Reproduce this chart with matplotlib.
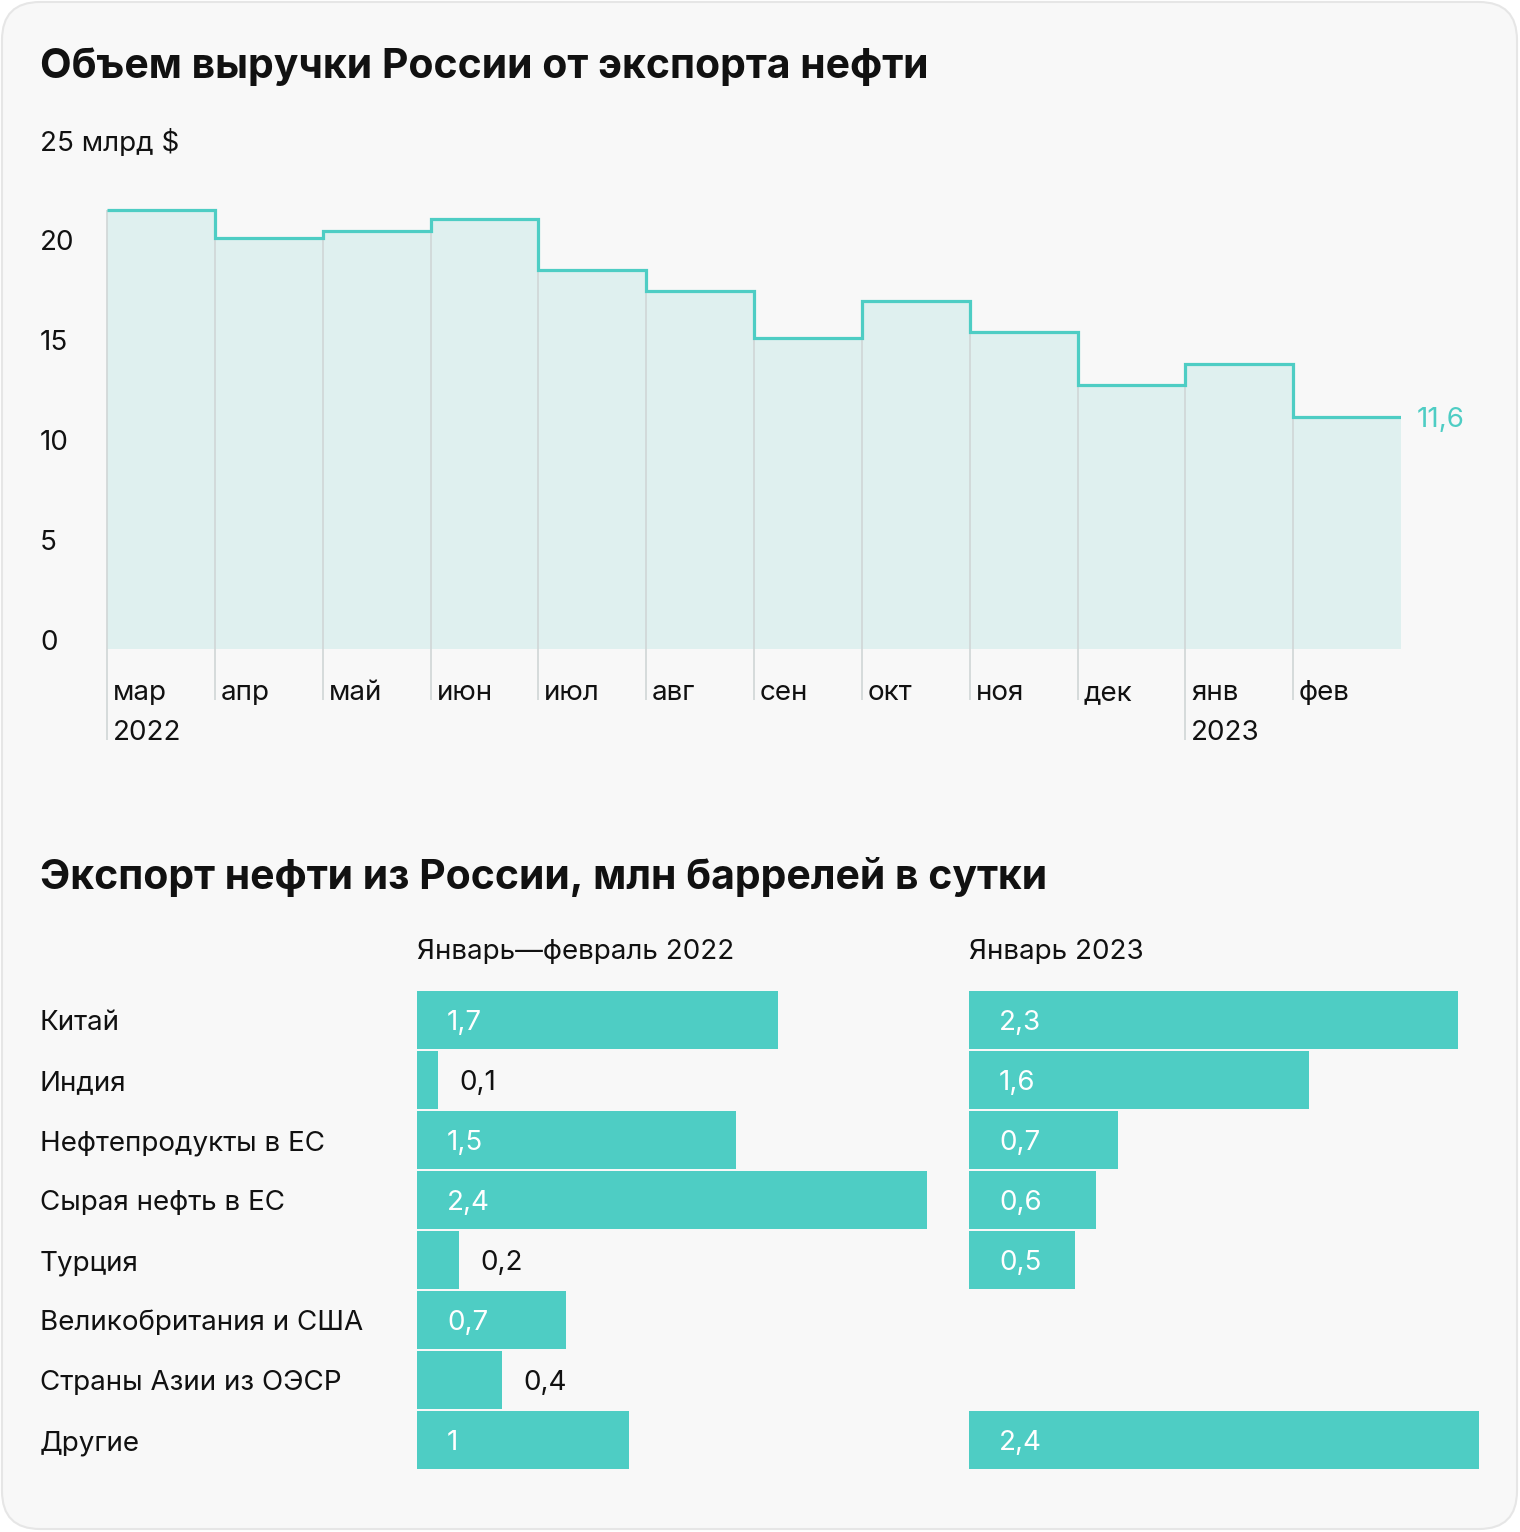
import numpy as np
import matplotlib
matplotlib.use("Agg")
import matplotlib.pyplot as plt
from matplotlib.patches import FancyBboxPatch
from matplotlib.transforms import offset_copy

plt.rcParams['font.family'] = ['Inter', 'DejaVu Sans']

# ---- data ----
months = ["мар\n2022", "апр", "май", "июн", "июл", "авг", "сен", "окт", "ноя", "дек", "янв\n2023", "фев"]
revenue = [21.95, 20.55, 20.9, 21.5, 18.95, 17.9, 15.55, 17.4, 15.85, 13.2, 14.25, 11.6]
y_ticks = [0, 5, 10, 15, 20, 25]
y_tick_labels = ["0", "5", "10", "15", "20", "25 млрд $"]

categories = ["Китай", "Индия", "Нефтепродукты в ЕС", "Сырая нефть в ЕС", "Турция",
              "Великобритания и США", "Страны Азии из ОЭСР", "Другие"]
exp_2022 = [1.7, 0.1, 1.5, 2.4, 0.2, 0.7, 0.4, 1.0]
exp_2023 = [2.3, 1.6, 0.7, 0.6, 0.5, np.nan, np.nan, 2.4]
panel_titles = ["Январь—февраль 2022", "Январь 2023"]

TEAL = "#4ecdc4"
FILL = "#dff0ef"
GRID = "#d0d6d6"
BG = "#f8f8f8"
FS = 20
DY = -3  # pixel nudge for text vertical centring

W, H = 1520, 1532
fig = plt.figure(figsize=(W / 100, H / 100), dpi=100)
fig.patch.set_facecolor("white")

def fx(x):
    return x / W

def fy(y):
    return 1 - y / H

def nud(tr):
    return offset_copy(tr, fig=fig, x=0, y=DY, units="dots")

# rounded background
bg = FancyBboxPatch((fx(2), fy(1529)), fx(1515), 1527 / H,
                    boxstyle="round,pad=0,rounding_size=0.025",
                    transform=fig.transFigure, facecolor=BG, edgecolor="#e6e6e6",
                    linewidth=1.5, zorder=-10, mutation_aspect=W / H)
fig.patches.append(bg)

# titles
fig.text(fx(40), fy(64), "Объем выручки России от экспорта нефти", fontsize=29.5,
         fontweight="bold", va="center", ha="left", color="#111111",
         transform=nud(fig.transFigure))
fig.text(fx(40), fy(874), "Экспорт нефти из России, млн баррелей в сутки", fontsize=29.5,
         fontweight="bold", va="center", ha="left", color="#111111",
         transform=nud(fig.transFigure))

# ---- top step chart ----
x0, x1 = 107, 1401
ytop, ybot = 149, 649
ax = fig.add_axes([fx(x0), fy(ybot), fx(x1 - x0), (ybot - ytop) / H])
ax.set_facecolor("none")
n = len(revenue)
edges = np.arange(n + 1)
ax.set_xlim(0, n)
ax.set_ylim(0, 25)
ax.axis("off")

ax.stairs(revenue, edges, fill=True, color=FILL, baseline=0, zorder=1)
for i, (m, v) in enumerate(zip(months, revenue)):
    lines = m.split("\n")
    bottom = -4.55 if len(lines) > 1 else -2.55
    ax.plot([i, i], [bottom, v], color=GRID, lw=1.2, zorder=2, clip_on=False,
            solid_capstyle="butt")
    ax.text(i + 0.055, -2.05, lines[0], fontsize=FS, va="center", ha="left",
            color="#111111", clip_on=False, transform=nud(ax.transData))
    if len(lines) > 1:
        ax.text(i + 0.055, -4.05, lines[1], fontsize=FS, va="center", ha="left",
                color="#111111", clip_on=False, transform=nud(ax.transData))
ax.stairs(revenue, edges, baseline=None, color=TEAL, lw=2.3, zorder=3)

for t, lab in zip(y_ticks, y_tick_labels):
    fig.text(fx(40), fy(ybot - t * 20 - 9), lab, fontsize=FS, va="center",
             ha="left", color="#111111", transform=nud(fig.transFigure))
ax.text(n + 0.15, revenue[-1], f"{revenue[-1]:.1f}".replace(".", ","), fontsize=FS,
        va="center", ha="left", color=TEAL, clip_on=False, transform=nud(ax.transData))

# ---- bottom bar panels ----
scale = 212.4
row_h = 60
btop = 990
nrows = len(categories)
for j, (vals, px_left, title) in enumerate(zip([exp_2022, exp_2023], [417, 969], panel_titles)):
    pw = 531
    bax = fig.add_axes([fx(px_left), fy(btop + nrows * row_h), fx(pw), nrows * row_h / H])
    bax.set_facecolor("none")
    bax.set_xlim(0, pw / scale)
    bax.set_ylim(nrows - 0.5, -0.5)
    bax.axis("off")
    ypos = np.arange(nrows)
    bax.barh(ypos, vals, height=0.965, color=TEAL, edgecolor="none")
    for yy, v in zip(ypos, vals):
        if np.isnan(v):
            continue
        lab = f"{v:.1f}".replace(".", ",")
        if lab.endswith(",0"):
            lab = lab[:-2]
        if v >= 0.5:
            bax.text(30 / scale, yy, lab, color="white", fontsize=FS, va="center",
                     ha="left", transform=nud(bax.transData))
        else:
            bax.text(v + 21 / scale, yy, lab, color="#111111", fontsize=FS, va="center",
                     ha="left", transform=nud(bax.transData))
    fig.text(fx(px_left), fy(949), title, fontsize=FS, va="center", ha="left",
             color="#111111", transform=nud(fig.transFigure))

for i, c in enumerate(categories):
    fig.text(fx(40), fy(btop + 30 + i * row_h), c, fontsize=FS, va="center", ha="left",
             color="#111111", transform=nud(fig.transFigure))

fig.savefig("out.png", dpi=100, facecolor=fig.get_facecolor())
